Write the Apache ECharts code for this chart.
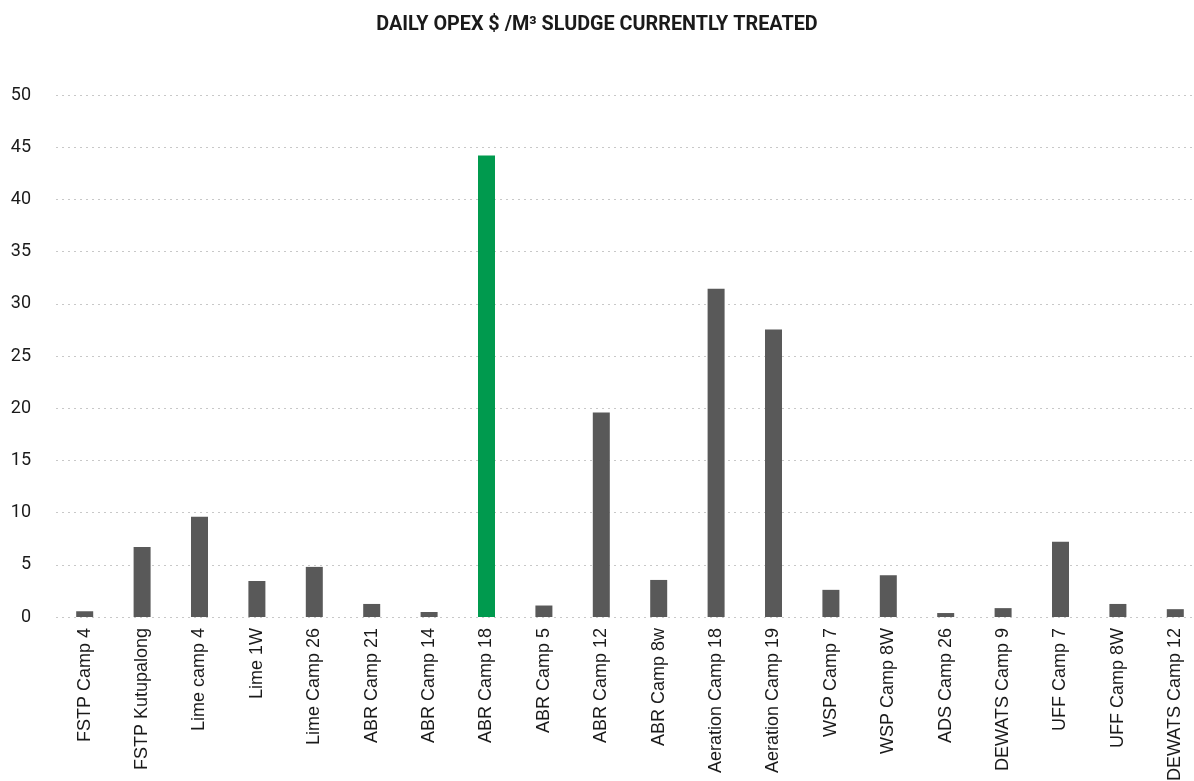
<!DOCTYPE html>
<html>
<head>
<meta charset="utf-8">
<title>Daily OPEX $/m³ sludge currently treated</title>
<script src="https://cdn.jsdelivr.net/npm/echarts@6/dist/echarts.min.js"></script>
<style>
  html, body { margin: 0; padding: 0; background: #ffffff; }
  #chart { width: 1194px; height: 781px; }
</style>
</head>
<body>
<div id="chart"></div>
<script>
// Treatment plants (x axis)
const categories = [
  'FSTP Camp 4', 'FSTP Kutupalong', 'Lime camp 4', 'Lime 1W', 'Lime Camp 26',
  'ABR Camp 21', 'ABR Camp 14', 'ABR Camp 18', 'ABR Camp 5', 'ABR Camp 12',
  'ABR Camp 8w', 'Aeration Camp 18', 'Aeration Camp 19', 'WSP Camp 7', 'WSP Camp 8W',
  'ADS Camp 26', 'DEWATS Camp 9', 'UFF Camp 7', 'UFF Camp 8W', 'DEWATS Camp 12'
];

// Daily OPEX in $ per m³ of sludge treated
const opexPerM3 = [
  0.55, 6.7, 9.6, 3.45, 4.8,
  1.25, 0.48, 44.2, 1.1, 19.6,
  3.55, 31.45, 27.55, 2.6, 4.0,
  0.38, 0.85, 7.2, 1.25, 0.75
];

// Plant drawn in the accent colour
const highlighted = ['ABR Camp 18'];

// Y axis range
const yMin = 0;
const yMax = 50;
const yStep = 5;

const baseColor = '#595959';
const accentColor = '#009a4e';

const chart = echarts.init(document.getElementById('chart'), null, { renderer: 'canvas' });

chart.setOption({
  animation: false,
  backgroundColor: '#ffffff',
  title: {
    text: 'DAILY OPEX $ /M³ SLUDGE CURRENTLY TREATED',
    left: 'center',
    top: 10,
    textStyle: {
      fontFamily: 'Roboto',
      fontWeight: 'bold',
      fontSize: 19.8,
      color: '#1a1a1a'
    }
  },
  grid: {
    left: 56,
    right: -10,
    top: 95,
    bottom: 164,
    containLabel: false,
    // long rotated labels run off the bottom edge; keep the plot area fixed
    outerBoundsMode: 'none'
  },
  xAxis: {
    type: 'category',
    data: categories,
    axisLine: { show: false },
    axisTick: { show: false },
    axisLabel: {
      rotate: 90,
      interval: 0,
      margin: 11,
      fontFamily: 'Liberation Sans',
      fontSize: 18,
      color: '#1a1a1a'
    }
  },
  yAxis: {
    type: 'value',
    min: yMin,
    max: yMax,
    interval: yStep,
    axisLine: { show: false },
    axisTick: { show: false },
    axisLabel: {
      margin: 25,
      fontFamily: 'Roboto',
      fontSize: 18,
      color: '#1a1a1a'
    },
    splitLine: {
      show: true,
      lineStyle: { color: '#c8c8c8', width: 1, type: [2, 4] }
    }
  },
  series: [{
    type: 'bar',
    barWidth: 17,
    data: opexPerM3.map((v, i) => ({
      value: v,
      itemStyle: { color: highlighted.includes(categories[i]) ? accentColor : baseColor }
    }))
  }]
});
</script>
</body>
</html>
